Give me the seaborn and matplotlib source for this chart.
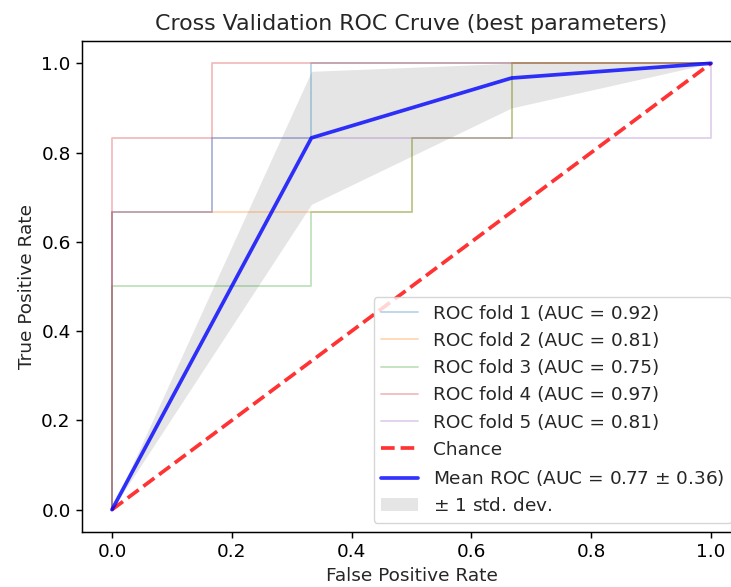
import matplotlib
matplotlib.use("Agg")
import matplotlib.pyplot as plt
import seaborn as sns
import pandas as pd

# ---- data ----
fold_labels = ["ROC fold 1 (AUC = 0.92)", "ROC fold 2 (AUC = 0.81)", "ROC fold 3 (AUC = 0.75)",
               "ROC fold 4 (AUC = 0.97)", "ROC fold 5 (AUC = 0.81)"]
fold1_fpr = [0, 0, 0.167, 0.167, 0.333, 0.333, 1.0]
fold1_tpr = [0, 0.667, 0.667, 0.833, 0.833, 1.0, 1.0]
fold2_fpr = [0, 0, 0.5, 0.5, 0.667, 0.667, 1.0]
fold2_tpr = [0, 0.667, 0.667, 0.833, 0.833, 1.0, 1.0]
fold3_fpr = [0, 0, 0.333, 0.333, 0.5, 0.5, 0.667, 0.667, 1.0]
fold3_tpr = [0, 0.5, 0.5, 0.667, 0.667, 0.833, 0.833, 1.0, 1.0]
fold4_fpr = [0, 0, 0.167, 0.167, 1.0]
fold4_tpr = [0, 0.833, 0.833, 1.0, 1.0]
fold5_fpr = [0, 0, 0.167, 0.167, 1.0, 1.0]
fold5_tpr = [0, 0.667, 0.667, 0.833, 0.833, 1.0]

chance_x = [0, 1]
chance_y = [0, 1]

mean_fpr = [0, 0.333, 0.667, 1.0]
mean_tpr = [0, 0.833, 0.967, 1.0]
tpr_lower = [0, 0.684, 0.900, 1.0]
tpr_upper = [0, 0.982, 1.0, 1.0]

title = "Cross Validation ROC Cruve (best parameters)"
mean_label = "Mean ROC (AUC = 0.77 $\\pm$ 0.36)"
std_label = "$\\pm$ 1 std. dev."
ticks = [0.0, 0.2, 0.4, 0.6, 0.8, 1.0]

# ---- drawing ----
sns.set_style("white")
plt.rcParams["font.family"] = ["DejaVu Sans"]
s = 1.33
fig = plt.figure(figsize=(7.31, 5.87), dpi=100)
ax = fig.add_axes([0.1122, 0.0937, 0.9015, 0.8365])

folds = [(fold1_fpr, fold1_tpr), (fold2_fpr, fold2_tpr), (fold3_fpr, fold3_tpr),
         (fold4_fpr, fold4_tpr), (fold5_fpr, fold5_tpr)]
pal = sns.color_palette("tab10")
for i, ((fx, fy), lab) in enumerate(zip(folds, fold_labels)):
    df = pd.DataFrame({"fpr": fx, "tpr": fy})
    sns.lineplot(data=df, x="fpr", y="tpr", sort=False, estimator=None, ax=ax,
                 color=pal[i], lw=1 * s, alpha=0.3, label=lab)

sns.lineplot(x=chance_x, y=chance_y, ax=ax, color="r", lw=2 * s, alpha=0.8,
             linestyle="--", label="Chance", estimator=None, sort=False)
sns.lineplot(x=mean_fpr, y=mean_tpr, ax=ax, color="b", lw=2 * s, alpha=0.8,
             label=mean_label, estimator=None, sort=False)
ax.fill_between(mean_fpr, tpr_lower, tpr_upper, color="grey", alpha=0.2, lw=0,
                label=std_label)

ax.set_xlim(-0.05, 1.05)
ax.set_ylim(-0.05, 1.05)
ax.set_xticks(ticks)
ax.set_yticks(ticks)
ax.tick_params(labelsize=10 * s, length=3.5 * s, width=0.8 * s, direction="out",
               bottom=True, left=True, colors="black")
for sp in ax.spines.values():
    sp.set_color("black")
    sp.set_linewidth(0.8 * s)
ax.set_xlabel("False Positive Rate", fontsize=10 * s)
ax.set_ylabel("True Positive Rate", fontsize=10 * s)
ax.set_title(title, fontsize=12 * s, pad=6 * s)
ax.legend(loc="lower right", fontsize=10 * s, frameon=True, framealpha=0.8,
          edgecolor="0.8", fancybox=True, borderaxespad=0.5)
fig.savefig("out.png", dpi=100)
